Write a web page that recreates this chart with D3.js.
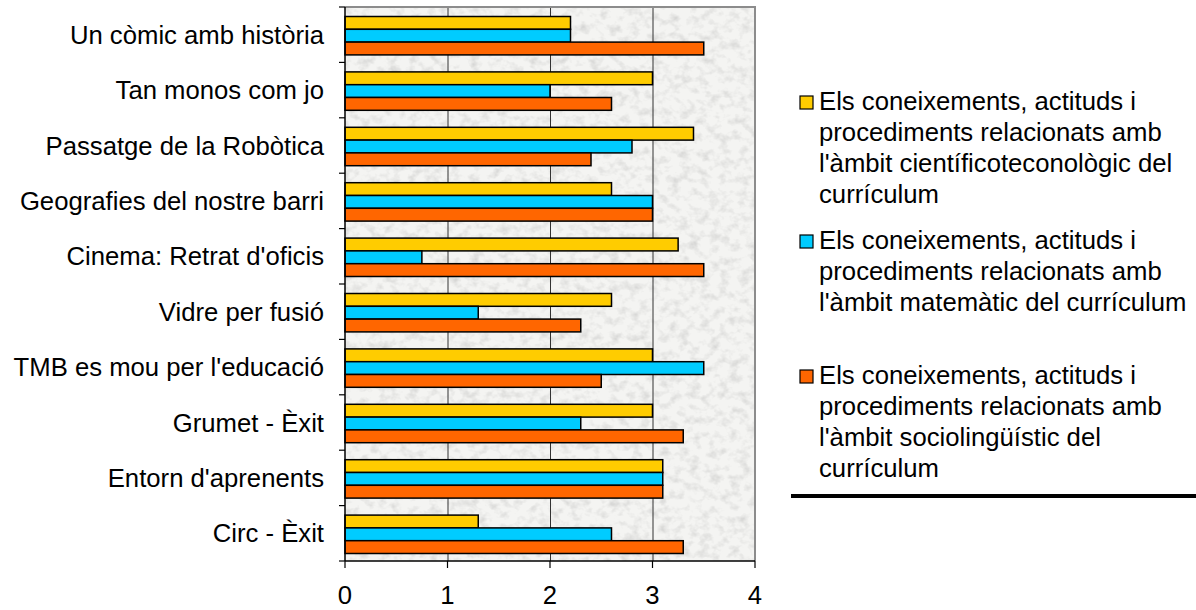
<!DOCTYPE html>
<html>
<head>
<meta charset="utf-8">
<script src="https://cdn.jsdelivr.net/npm/d3@7"></script>
<style>
    html, body { margin: 0; padding: 0; background: #ffffff; }
    svg { display: block; }
    text { font-family: "Liberation Sans", Arial, sans-serif; fill: #000; }
</style>
</head>
<body>
<div id="chart"></div>
<script>
var categories = ["Un còmic amb història", "Tan monos com jo", "Passatge de la Robòtica",
    "Geografies del nostre barri", "Cinema: Retrat d'oficis", "Vidre per fusió",
    "TMB es mou per l'educació", "Grumet - Èxit", "Entorn d'aprenents", "Circ - Èxit"];
var cientific = [2.2, 3.0, 3.4, 2.6, 3.25, 2.6, 3.0, 3.0, 3.1, 1.3];
var matematic = [2.2, 2.0, 2.8, 3.0, 0.75, 1.3, 3.5, 2.3, 3.1, 2.6];
var socioling = [3.5, 2.6, 2.4, 3.0, 3.5, 2.3, 2.5, 3.3, 3.1, 3.3];
var xTicks = [0, 1, 2, 3, 4];
var seriesKeys = ["cientific", "matematic", "socioling"];
var seriesColors = ["#ffcc00", "#00ccff", "#ff6600"];
var legendLines = [
    ["Els coneixements, actituds i", "procediments relacionats amb", "l'àmbit científicoteconològic del", "currículum"],
    ["Els coneixements, actituds i", "procediments relacionats amb", "l'àmbit matemàtic del currículum"],
    ["Els coneixements, actituds i", "procediments relacionats amb", "l'àmbit sociolingüístic del", "currículum"]
];

var width = 1196,
    height = 610,
    fontSize = 25.7,
    plot = { left: 345, right: 755, top: 7, bottom: 561 };

var rows = categories.map(function (c, i) {
    return { name: c, cientific: cientific[i], matematic: matematic[i], socioling: socioling[i] };
});

var svg = d3.select("#chart").append("svg")
    .attr("width", width)
    .attr("height", height);

// granite-like texture for the plot area
var defs = svg.append("defs");
var filter = defs.append("filter")
    .attr("id", "granite")
    .attr("x", 0).attr("y", 0).attr("width", 1).attr("height", 1);
filter.append("feTurbulence")
    .attr("type", "fractalNoise")
    .attr("baseFrequency", "0.1 0.12")
    .attr("numOctaves", 3)
    .attr("seed", 7);
filter.append("feColorMatrix")
    .attr("type", "matrix")
    .attr("values", "0 0 0 0 0.66  0 0 0 0 0.66  0 0 0 0 0.65  2.0 0 0 0 -0.9");

var x = d3.scaleLinear()
    .domain([0, 4])
    .range([plot.left, plot.right]);

var y0 = d3.scaleBand()
    .domain(categories)
    .range([plot.top, plot.bottom]);

var y1 = d3.scaleBand()
    .domain(seriesKeys)
    .range([9.5, 9.5 + 38.4]);

svg.append("rect")
    .attr("x", plot.left)
    .attr("y", plot.top)
    .attr("width", plot.right - plot.left)
    .attr("height", plot.bottom - plot.top)
    .attr("fill", "#f4f4f2");

svg.append("rect")
    .attr("x", plot.left)
    .attr("y", plot.top)
    .attr("width", plot.right - plot.left)
    .attr("height", plot.bottom - plot.top)
    .attr("filter", "url(#granite)");

// grid lines
svg.append("g")
    .selectAll("line")
    .data(xTicks.slice(1, -1))
    .enter().append("line")
    .attr("x1", function (d) { return x(d) + 0.5; })
    .attr("x2", function (d) { return x(d) + 0.5; })
    .attr("y1", plot.top)
    .attr("y2", plot.bottom)
    .style("stroke", "#333")
    .style("stroke-width", 1);

// grey frame top and right
svg.append("path")
    .attr("d", "M" + plot.left + "," + plot.top + "H" + plot.right + "V" + plot.bottom)
    .attr("fill", "none")
    .style("stroke", "#8c8c8c")
    .style("stroke-width", 2);

// bars
var group = svg.append("g")
    .selectAll("g")
    .data(rows)
    .enter().append("g")
    .attr("transform", function (d) { return "translate(0," + y0(d.name) + ")"; });

group.selectAll("rect")
    .data(function (d) {
        return seriesKeys.map(function (k, i) { return { key: k, value: d[k], color: seriesColors[i] }; });
    })
    .enter().append("rect")
    .attr("x", x(0))
    .attr("y", function (d) { return y1(d.key); })
    .attr("width", function (d) { return x(d.value) - x(0); })
    .attr("height", y1.bandwidth())
    .attr("fill", function (d) { return d.color; })
    .style("stroke", "#000")
    .style("stroke-width", 1.5);

// y axis
var yAxis = svg.append("g");
yAxis.append("line")
    .attr("x1", plot.left).attr("x2", plot.left)
    .attr("y1", plot.top).attr("y2", plot.bottom)
    .style("stroke", "#000").style("stroke-width", 1.5);
yAxis.selectAll("line.tick")
    .data(d3.range(categories.length + 1))
    .enter().append("line")
    .attr("class", "tick")
    .attr("x1", plot.left - 6).attr("x2", plot.left)
    .attr("y1", function (i) { return plot.top + i * y0.step(); })
    .attr("y2", function (i) { return plot.top + i * y0.step(); })
    .style("stroke", "#000").style("stroke-width", 1.2);
yAxis.selectAll("text")
    .data(categories)
    .enter().append("text")
    .attr("x", 324)
    .attr("y", function (d) { return y0(d) + y0.bandwidth() / 2 + 9; })
    .attr("text-anchor", "end")
    .style("font-size", fontSize + "px")
    .text(function (d) { return d; });

// x axis
var xAxis = svg.append("g");
xAxis.append("line")
    .attr("x1", plot.left).attr("x2", plot.right)
    .attr("y1", plot.bottom).attr("y2", plot.bottom)
    .style("stroke", "#000").style("stroke-width", 1.5);
xAxis.selectAll("line.tick")
    .data(xTicks)
    .enter().append("line")
    .attr("class", "tick")
    .attr("x1", x).attr("x2", x)
    .attr("y1", plot.bottom).attr("y2", plot.bottom + 7)
    .style("stroke", "#000").style("stroke-width", 1.2);
xAxis.selectAll("text")
    .data(xTicks)
    .enter().append("text")
    .attr("x", x)
    .attr("y", 604)
    .attr("text-anchor", "middle")
    .style("font-size", fontSize + "px")
    .text(function (d) { return d; });

// legend
var legendTop = [110, 249, 384],
    lineHeight = 31;

var legend = svg.append("g")
    .selectAll("g")
    .data(legendLines)
    .enter().append("g")
    .attr("transform", function (d, i) { return "translate(0," + legendTop[i] + ")"; });

legend.append("rect")
    .attr("x", 800)
    .attr("y", -14)
    .attr("width", 13)
    .attr("height", 13)
    .attr("fill", function (d, i) { return seriesColors[i]; })
    .style("stroke", "#000")
    .style("stroke-width", 1.2);

legend.append("text")
    .style("font-size", fontSize + "px")
    .selectAll("tspan")
    .data(function (d) { return d; })
    .enter().append("tspan")
    .attr("x", 819)
    .attr("y", function (d, i) { return i * lineHeight; })
    .text(function (d) { return d; });

svg.append("line")
    .attr("x1", 791).attr("x2", width)
    .attr("y1", 496).attr("y2", 496)
    .style("stroke", "#000")
    .style("stroke-width", 4);
</script>
</body>
</html>
